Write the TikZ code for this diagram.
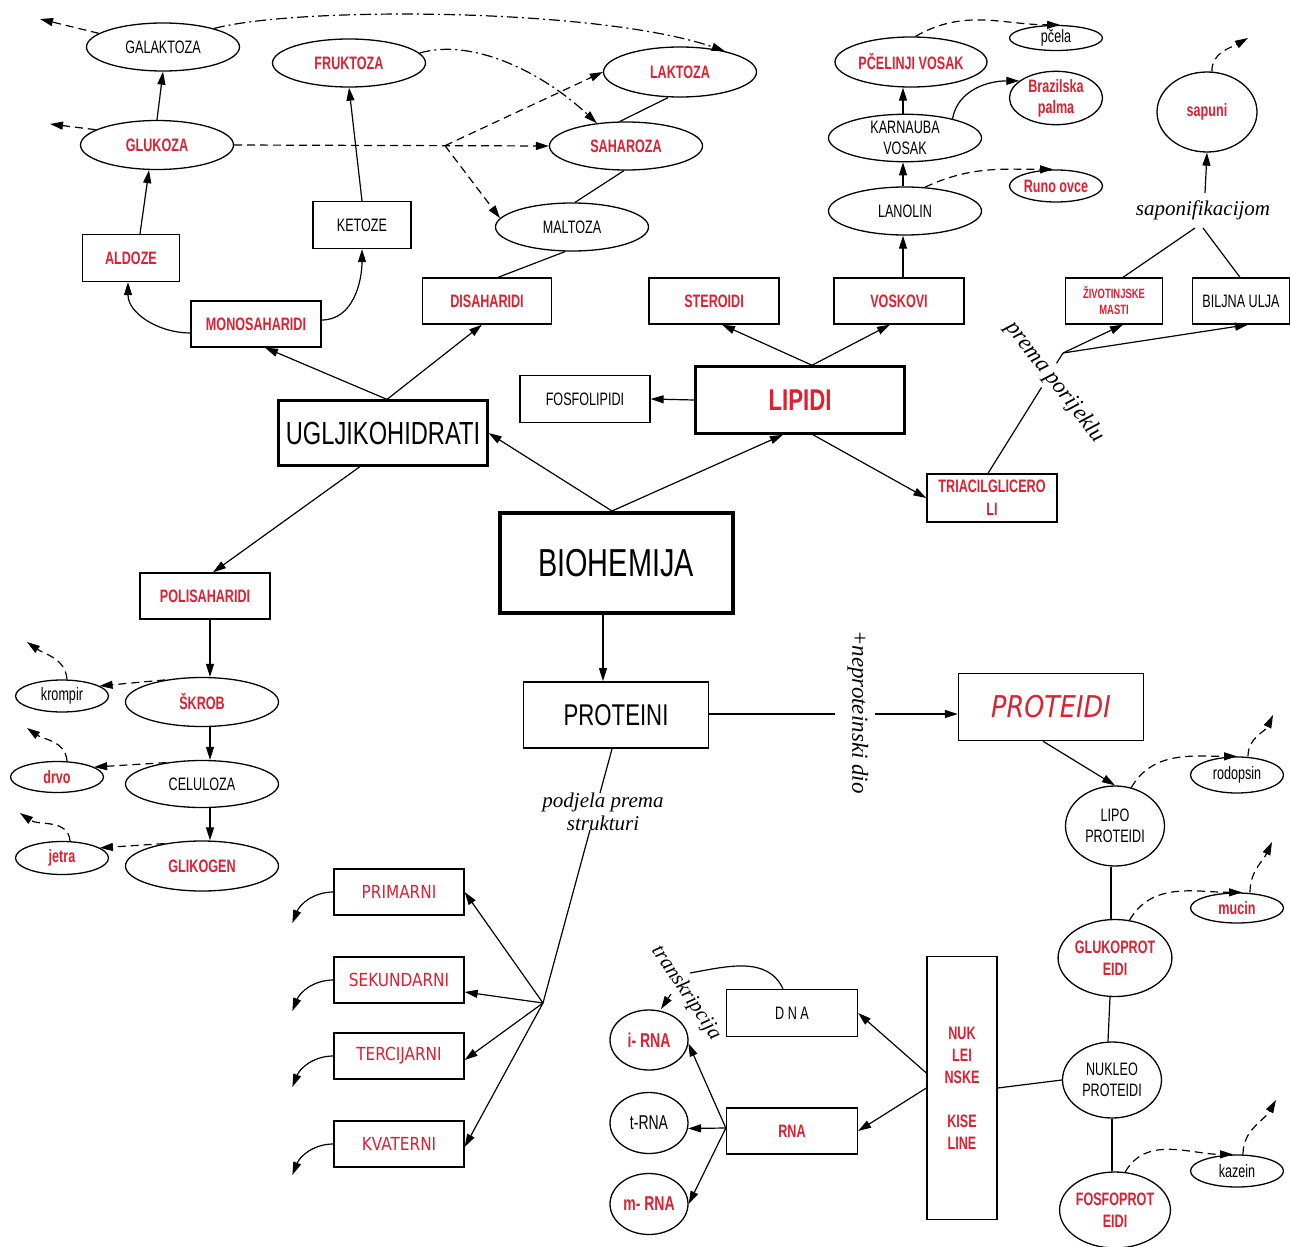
\documentclass[tikz,border=0pt]{standalone}
\usepackage{fontspec}
\usetikzlibrary{shapes.geometric,arrows.meta}
\newfontfamily\nar{Liberation Sans}[FakeStretch=0.7]
\newfontfamily\wid{Liberation Sans}[FakeStretch=0.74]
\newfontfamily\comic{DejaVu Sans}[FakeStretch=0.85]
\newfontfamily\script{Liberation Serif}
\definecolor{lred}{RGB}{222,32,48}
\tikzset{
  conn/.style={line width=1.2pt},
  arr/.style={conn,-{Triangle[length=13pt,width=8pt]}},
  darr/.style={arr,dash pattern=on 8pt off 5pt},
  ddarr/.style={arr,dash pattern=on 11pt off 4pt on 2pt off 4pt},
  bx/.style={draw,rectangle,line width=1.3pt,inner sep=0pt,minimum width=130pt,minimum height=46pt,align=center,font=\nar\fontsize{18}{21}\selectfont},
  ov/.style={draw,ellipse,line width=1.3pt,inner sep=0pt,minimum width=153pt,minimum height=48pt,align=center,font=\nar\fontsize{18}{21}\selectfont},
  sov/.style={ov,minimum width=93pt,minimum height=32pt},
  rl/.style={text=lred,font=\nar\bfseries\fontsize{18}{21}\selectfont},
  comiclabel/.style={text=lred,font=\comic\fontsize{18}{20}\selectfont},
  hw/.style={font=\script\itshape\fontsize{21}{23}\selectfont,inner sep=0pt},
}
\begin{document}
\begin{tikzpicture}[x=1pt,y=-1pt]
\fill[white] (0,0) rectangle (1291,1247);
\useasboundingbox (0,0) rectangle (1291,1247);

% ---------- carbohydrates ----------
\node[ov] (gal) at (163,47) {GALAKTOZA};
\node[ov,rl] (fru) at (349,63) {FRUKTOZA};
\node[ov,rl,minimum height=49pt] (glu) at (157,145) {GLUKOZA};
\node[bx,rl,minimum width=97pt,minimum height=47pt] (ald) at (131,258) {ALDOZE};
\node[bx,minimum width=98pt,minimum height=47pt] (ket) at (362,225) {KETOZE};
\node[bx,rl] (mon) at (256,324) {MONOSAHARIDI};
\node[bx,rl,minimum width=129pt] (dis) at (487,301) {DISAHARIDI};
\node[ov,rl,minimum height=50pt] (lak) at (680,72) {LAKTOZA};
\node[ov,rl] (sah) at (626,146) {SAHAROZA};
\node[ov] (mal) at (572,227) {MALTOZA};
\node[bx,line width=2.2pt,minimum width=209pt,minimum height=65pt,font=\wid\fontsize{32}{34}\selectfont] (ugl) at (383,433) {UGLJIKOHIDRATI};
\node[bx,rl] (pol) at (205,596) {POLISAHARIDI};
\node[ov,rl,minimum height=49pt] (skr) at (202,702) {ŠKROB};
\node[ov,minimum height=47pt] (cel) at (202,784) {CELULOZA};
\node[ov,rl,minimum height=50pt] (gli) at (202,866) {GLIKOGEN};
\node[sov] (kro) at (62,696) {krompir};
\node[sov,rl,minimum height=31pt] (drv) at (57,777) {drvo};
\node[sov,rl,minimum height=33pt] (jet) at (62,858) {jetra};

% ---------- lipids ----------
\node[bx,rl] (ste) at (714,301) {STEROIDI};
\node[bx,rl] (vos) at (899,301) {VOSKOVI};
\node[bx,minimum height=47pt] (fos) at (585,399) {FOSFOLIPIDI};
\node[bx,line width=2.5pt,minimum width=209pt,minimum height=67pt,text=lred,font=\wid\bfseries\fontsize{30}{32}\selectfont] (lip) at (800,400) {LIPIDI};
\node[bx,rl,minimum height=48pt,font=\nar\bfseries\fontsize{18}{23}\selectfont] (tri) at (992,498) {TRIACILGLICERO\\LI};
\node[ov] (lan) at (905,211) {LANOLIN};
\node[ov,minimum height=47pt] (kar) at (905,138) {KARNAUBA\\VOSAK};
\node[ov,rl,minimum width=152pt,minimum height=50pt] (pcv) at (911,62) {PČELINJI VOSAK};
\node[sov,minimum height=25pt] (pce) at (1056,38) {pčela};
\node[sov,rl,minimum height=46pt] (bra) at (1056,98) {Brazilska\\palma};
\node[sov,rl] (run) at (1056,186) {Runo ovce};
\node[bx,rl,minimum width=97pt,font=\nar\bfseries\fontsize{13.5}{16}\selectfont] (ziv) at (1114,301) {ŽIVOTINJSKE\\MASTI};
\node[bx,minimum width=97pt] (bil) at (1241,301) {BILJNA ULJA};
\node[ov,rl,minimum width=100pt,minimum height=80pt] (sap) at (1207,112) {sapuni};
\node[hw] (sapt) at (1203,210) {saponifikacijom};
\node[hw,font=\script\itshape\fontsize{23}{25}\selectfont,rotate=-52] (ppt) at (1055,382) {prema porijeklu};

% ---------- centre ----------
\node[bx,line width=4pt,minimum width=233pt,minimum height=100pt,font=\wid\fontsize{39}{41}\selectfont] (bio) at (616,563) {BIOHEMIJA};
\node[bx,line width=1.8pt,minimum width=185pt,minimum height=66pt,font=\wid\fontsize{30}{32}\selectfont] (pro) at (616,715) {PROTEINI};
\node[bx,line width=1.5pt,minimum width=185pt,minimum height=67pt,text=lred,font=\comic\itshape\fontsize{30}{32}\selectfont] (ptd) at (1051,707) {PROTEIDI};
\node[hw,font=\script\itshape\fontsize{23}{25}\selectfont,rotate=-90] (npt) at (858,712) {+neproteinski dio};

% ---------- proteins by structure ----------
\node[hw,align=center] (pdt) at (603,812) {podjela prema\\strukturi};
\node[bx,comiclabel] (pri) at (399,892) {PRIMARNI};
\node[bx,comiclabel] (sek) at (399,980) {SEKUNDARNI};
\node[bx,comiclabel] (ter) at (399,1056) {TERCIJARNI};
\node[bx,comiclabel] (kva) at (399,1144) {KVATERNI};

% ---------- conjugated proteins ----------
\node[ov,minimum width=99pt,minimum height=80pt] (lpo) at (1115,826) {LIPO\\PROTEIDI};
\node[sov,minimum height=36pt] (rod) at (1237,775) {rodopsin};
\node[ov,rl,minimum width=100pt,minimum height=77pt,font=\nar\bfseries\fontsize{18}{22}\selectfont] (glp) at (1115,958) {GLUKOPROT\\EIDI};
\node[sov,rl,minimum height=30pt] (muc) at (1237,908) {mucin};
\node[ov,minimum width=99pt,minimum height=76pt] (nkp) at (1112,1080) {NUKLEO\\PROTEIDI};
\node[ov,rl,minimum width=99pt,minimum height=76pt,font=\nar\bfseries\fontsize{18}{22}\selectfont] (fsp) at (1115,1210) {FOSFOPROT\\EIDI};
\node[sov,minimum height=32pt] (kaz) at (1237,1171) {kazein};

% ---------- nucleic acids ----------
\node[bx,rl,minimum width=70pt,minimum height=263pt,font=\nar\bfseries\fontsize{18}{22}\selectfont] (nuk) at (962,1088) {NUK\\LEI\\NSKE\\[22pt]KISE\\LINE};
\node[bx,minimum width=131pt,minimum height=47pt] (dna) at (792,1013) {D N A};
\node[bx,rl,minimum width=131pt] (rna) at (792,1131) {RNA};
\node[sov,rl,minimum width=78pt,minimum height=60pt,font=\nar\bfseries\fontsize{20}{22}\selectfont] (irn) at (649,1040) {i- RNA};
\node[sov,minimum width=78pt,minimum height=61pt,font=\nar\fontsize{20}{22}\selectfont] (trn) at (649,1123) {t-RNA};
\node[sov,rl,minimum width=78pt,minimum height=61pt,font=\nar\bfseries\fontsize{20}{22}\selectfont] (mrn) at (649,1204) {m- RNA};
\node[hw,rotate=-56] (trt) at (686,993) {transkripcija};

% ---------- free ends ----------
\coordinate (galx) at (40,19);
\coordinate (glux) at (50,124);
\coordinate (krox) at (27,642);
\coordinate (drvx) at (27,728);
\coordinate (jetx) at (20,813);
\coordinate (sapx) at (1248,38);
\coordinate (rodx) at (1273,715);
\coordinate (mucx) at (1272,842);
\coordinate (kazx) at (1276,1100);
\coordinate (spl) at (1063,353);
\coordinate (sp1) at ([xshift=-8pt,yshift=-18pt]sapt.center);
\coordinate (sp2) at ([yshift=-18pt]sapt.center);
\coordinate (np1) at (835,714);
\coordinate (np2) at (875,714);
\coordinate (ps1) at (600,793);
\coordinate (ps2) at (590,830);
\coordinate (pss) at (543,1003);
\coordinate (tr1) at (690,973);
\coordinate (tr2) at (671,994);
\coordinate (tr3) at (661,1009);

% ---------- carbohydrate connectors ----------
\draw[arr] ([xshift=4pt]ugl.north) -- ([xshift=9pt]mon.south);
\draw[arr] ([xshift=4pt]ugl.north) -- ([xshift=-5pt]dis.south);
\draw[arr] ([yshift=-9pt]mon.west) to[out=180,in=-90] ([xshift=-3pt]ald.south);
\draw[arr] ([yshift=4pt]mon.east) to[out=0,in=-90] (ket.south);
\draw[arr] ([xshift=9pt]ald.north) -- ([xshift=-8pt]glu.south);
\draw[arr] (glu.north) -- (gal.south);
\draw[arr] (ket.north) -- (fru.south);
\draw[conn] ([xshift=-12pt]lak.south) -- ([xshift=-6pt]sah.north);
\draw[conn] ([xshift=-2pt]sah.south) -- ([xshift=3pt]mal.north);
\draw[conn] ([xshift=-7pt]mal.south) -- ([xshift=11pt]dis.north);
\path (glu.east) -- (sah.west) coordinate[pos=0.67] (gbr);
\draw[darr] (glu.east) -- (sah.west);
\draw[darr] (gbr) -- (lak.west);
\draw[darr] (gbr) -- (mal.173);
\draw[ddarr] (gal.20) .. controls (300,6) and (600,8) .. (lak.25);
\draw[ddarr] (fru.8) .. controls (470,38) and (540,70) .. (sah.142);
\draw[darr] (gal.168) -- (galx);
\draw[darr] (glu.166) -- (glux);
\draw[arr] ([xshift=-23pt]ugl.south) -- ([xshift=8pt]pol.north);
\draw[arr] ([xshift=5pt]pol.south) -- ([xshift=8pt]skr.north);
\draw[arr] ([xshift=8pt]skr.south) -- ([xshift=8pt]cel.north);
\draw[arr] ([xshift=8pt]cel.south) -- ([xshift=8pt]gli.north);
\draw[darr] (skr.149) -- (kro.15);
\draw[darr] (cel.149) -- (drv.15);
\draw[darr] (gli.149) -- (jet.15);
\draw[darr] ([xshift=5pt]kro.north) to[out=95,in=-35] (krox);
\draw[darr] ([xshift=10pt]drv.north) to[out=95,in=-35] (drvx);
\draw[darr] ([xshift=8pt]jet.north) to[out=95,in=-35] (jetx);

% ---------- lipid connectors ----------
\draw[arr] ([xshift=12pt]lip.north) -- ([xshift=8pt]ste.south);
\draw[arr] ([xshift=12pt]lip.north) -- ([xshift=-9pt]vos.south);
\draw[arr] (lip.west) -- (fos.east);
\draw[arr] ([xshift=13pt]lip.south) -- (tri.west);
\draw[arr] ([xshift=4pt]vos.north) -- ([xshift=-2pt]lan.south);
\draw[arr] ([xshift=-2pt]lan.north) -- ([xshift=-2pt]kar.south);
\draw[arr] ([xshift=-2pt]kar.north) -- ([xshift=-8pt]pcv.south);
\draw[arr] (kar.22) to[out=80,in=180] (bra.155);
\draw[darr] (pcv.80) to[out=30,in=180] ([xshift=4pt]pce.north);
\draw[darr] (lan.50) to[out=25,in=180] ([xshift=-3pt]run.north);
\path ([xshift=-4pt]tri.north) -- (spl) coordinate[pos=0.714] (pp1) coordinate[pos=0.914] (pp2);
\draw[conn] ([xshift=-4pt]tri.north) -- (pp1);
\draw[conn] (pp2) -- (spl);
\draw[arr] (spl) -- ([xshift=9pt]ziv.south);
\draw[arr] (spl) -- ([xshift=7pt]bil.south);
\draw[conn] ([xshift=9pt]ziv.north) -- (sp1);
\draw[conn] ([xshift=-1pt]bil.north) -- (sp2);
\draw[arr] ([xshift=2pt,yshift=17pt]sapt.center) -- (sap.south);
\draw[darr] (sap.83) to[out=92,in=-150] (sapx);

% ---------- centre connectors ----------
\draw[arr] ([xshift=-4pt]bio.north) -- (ugl.east);
\draw[arr] ([xshift=-4pt]bio.north) -- ([xshift=-17pt]lip.south);
\draw[arr] ([xshift=-13pt]bio.south) -- ([xshift=-13pt]pro.north);
\draw[conn] (pro.east |- np1) -- (np1);
\draw[arr] (np2) -- (ptd.west |- np2);

% ---------- protein structure ----------
\draw[conn] ([xshift=-4pt]pro.south) -- (ps1);
\draw[conn] (ps2) -- (pss);
\foreach \n/\s in {pri/0pt,sek/-12pt,ter/-4pt,kva/-3pt}
  \draw[arr] (pss) -- ([yshift=\s]\n.east);
\foreach \n in {pri,sek,ter,kva}
  \draw[arr] (\n.west) to[out=180,in=68] ([xshift=-41pt,yshift=-31pt]\n.west);

% ---------- conjugated protein connectors ----------
\draw[arr] ([xshift=-8pt]ptd.south) -- (lpo.north);
\draw[conn] ([xshift=-4pt]lpo.south) -- ([xshift=-4pt]glp.north);
\draw[conn] ([xshift=-5pt]glp.south) -- ([xshift=-4pt]nkp.north);
\draw[conn] (nkp.south) -- ([xshift=-3pt]fsp.north);
\draw[darr] (lpo.67) to[out=60,in=180] (rod.north);
\draw[darr] ([xshift=11pt]rod.north) to[out=90,in=-115] (rodx);
\draw[darr] (glp.69) to[out=60,in=180] ([xshift=5pt]muc.north);
\draw[darr] ([xshift=13pt]muc.north) to[out=90,in=-115] (mucx);
\draw[darr] (fsp.75) to[out=60,in=180] ([xshift=-4pt]kaz.north);
\draw[darr] ([xshift=6pt]kaz.north) to[out=90,in=-120] (kazx);

% ---------- nucleic acid connectors ----------
\draw[conn] (nuk.east) -- (nkp.west);
\draw[arr] ([yshift=15pt]nuk.west) -- (dna.east);
\draw[arr] (nuk.west) -- (rna.east);
\draw[arr] ([yshift=3pt]rna.west) -- (irn.-5);
\draw[arr] ([yshift=3pt]rna.west) -- (trn.-8);
\draw[arr] ([yshift=3pt]rna.west) -- (mrn.east);
\draw[conn] ([xshift=-9pt]dna.north) to[out=115,in=10] (tr1);
\draw[arr] (tr2) -- (tr3);
\end{tikzpicture}
\end{document}
